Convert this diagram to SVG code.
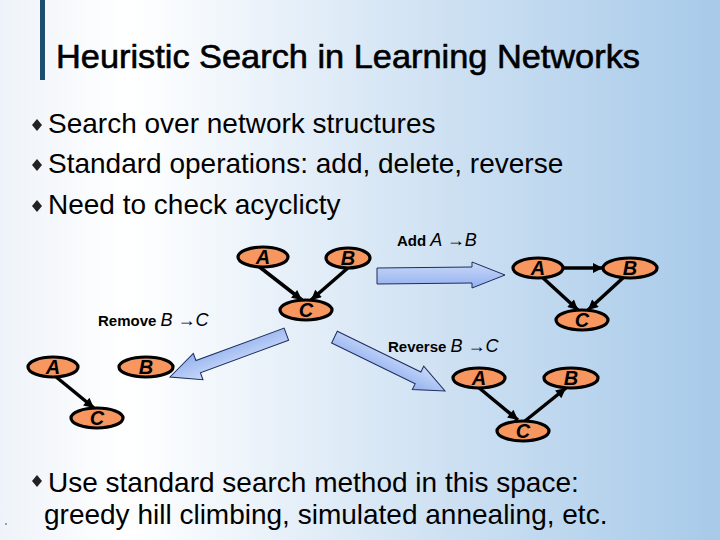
<svg xmlns="http://www.w3.org/2000/svg" width="720" height="540" viewBox="0 0 720 540">
<defs>
<linearGradient id="bg" x1="0" y1="0" x2="1" y2="0">
<stop offset="0" stop-color="#eef3f9"/>
<stop offset="0.18" stop-color="#ffffff"/>
<stop offset="0.6" stop-color="#d0e2f3"/>
<stop offset="1" stop-color="#a7cae9"/>
</linearGradient>
<linearGradient id="ar" x1="0" y1="0" x2="0" y2="1">
<stop offset="0" stop-color="#c9d9f8"/>
<stop offset="1" stop-color="#93b1f0"/>
</linearGradient>
<marker id="hd" viewBox="0 0 10 10" refX="10" refY="5" markerWidth="12" markerHeight="10" markerUnits="userSpaceOnUse" orient="auto">
<path d="M0,0 L10,5 L0,10 z" fill="#000"/>
</marker>
<style>
.t{font-family:"Liberation Sans",Arial,sans-serif;fill:#000}
.b{font-size:28px}
.op{font-family:"Liberation Sans",Arial,sans-serif;font-size:15px;font-weight:bold}
.it{font-family:"Liberation Sans",Arial,sans-serif;font-size:18px;font-style:italic;font-weight:normal}
.nd ellipse{fill:#f7965e;stroke:#000;stroke-width:3.2}
.nd text{font-family:"Liberation Sans",Arial,sans-serif;font-size:20px;font-style:italic;font-weight:bold;text-anchor:middle;fill:#000}
.e{stroke:#000;stroke-width:3.5;fill:none;marker-end:url(#hd)}
.blk{fill:url(#ar);stroke:#1e2c5c;stroke-width:1}
.dm{fill:#222}
</style>
</defs>
<rect width="720" height="540" fill="url(#bg)"/>
<rect x="40" y="0" width="5" height="80" fill="#1d4e6d"/>
<text class="t" x="56" y="68" font-size="33" textLength="584" lengthAdjust="spacingAndGlyphs" stroke="#000" stroke-width="0.6">Heuristic Search in Learning Networks</text>

<polygon class="dm" points="37,119 42,125 37,131 32,125"/>
<text class="t b" x="48" y="133">Search over network structures</text>
<polygon class="dm" points="37,159 42,165 37,171 32,165"/>
<text class="t b" x="48" y="173">Standard operations: add, delete, reverse</text>
<polygon class="dm" points="37,200 42,206 37,212 32,206"/>
<text class="t b" x="48" y="214">Need to check acyclicty</text>

<g id="op-arrows">
<polygon class="blk" points="377,268 472,267 472,262 505,275 472,288 472,283 377,284"/>
<g transform="translate(170,377) rotate(159.8)">
<polygon class="blk" points="-124,-6.5 -30,-6.5 -30,-14 0,0 -30,14 -30,6.5 -124,6.5"/>
</g>
<g transform="translate(445,391) rotate(26)">
<polygon class="blk" points="-123,-6.5 -30,-6.5 -30,-13 0,0 -30,13 -30,6.5 -123,6.5"/>
</g>
</g>

<text x="397" y="246"><tspan class="op">Add </tspan><tspan class="it">A →B</tspan></text>
<text x="98" y="326"><tspan class="op">Remove </tspan><tspan class="it">B →C</tspan></text>
<text x="388" y="352"><tspan class="op">Reverse </tspan><tspan class="it">B →C</tspan></text>

<g id="connectors">
<line class="e" x1="257" y1="265" x2="302" y2="300"/>
<line class="e" x1="349" y1="267" x2="311" y2="300"/>
<line class="e" x1="563" y1="268" x2="603" y2="268"/>
<line class="e" x1="542" y1="277" x2="578" y2="310"/>
<line class="e" x1="624" y1="277" x2="588" y2="310"/>
<line class="e" x1="55" y1="376" x2="94" y2="408"/>
<line class="e" x1="478" y1="387" x2="518" y2="420"/>
<line class="e" x1="525" y1="421" x2="566" y2="388"/>
</g>

<g id="g1-A" class="nd"><ellipse cx="263" cy="257" rx="25" ry="10"/><text x="263" y="264">A</text></g>
<g id="g1-B" class="nd"><ellipse cx="348" cy="258" rx="22" ry="10"/><text x="348" y="265">B</text></g>
<g id="g1-C" class="nd"><ellipse cx="306" cy="310" rx="26" ry="10"/><text x="306" y="317">C</text></g>

<g id="g2-A" class="nd"><ellipse cx="538" cy="268" rx="25" ry="10"/><text x="538" y="275">A</text></g>
<g id="g2-B" class="nd"><ellipse cx="630" cy="268" rx="27" ry="10"/><text x="630" y="275">B</text></g>
<g id="g2-C" class="nd"><ellipse cx="582" cy="320" rx="26" ry="10"/><text x="582" y="327">C</text></g>

<g id="g3-A" class="nd"><ellipse cx="53" cy="367" rx="25" ry="10"/><text x="53" y="374">A</text></g>
<g id="g3-B" class="nd"><ellipse cx="146" cy="367" rx="27" ry="10"/><text x="146" y="374">B</text></g>
<g id="g3-C" class="nd"><ellipse cx="97" cy="418" rx="26" ry="10"/><text x="97" y="425">C</text></g>

<g id="g4-A" class="nd"><ellipse cx="479" cy="378" rx="26" ry="10"/><text x="479" y="385">A</text></g>
<g id="g4-B" class="nd"><ellipse cx="571" cy="378" rx="27" ry="10"/><text x="571" y="385">B</text></g>
<g id="g4-C" class="nd"><ellipse cx="523" cy="431" rx="26" ry="10"/><text x="523" y="438">C</text></g>

<polygon class="dm" points="37,475 42,481 37,487 32,481"/>
<text class="t b" x="48" y="492">Use standard search method in this space:</text>
<text class="t b" x="44" y="524">greedy hill climbing, simulated annealing, etc.</text>
<circle cx="6" cy="524" r="0.8" fill="#333"/>
</svg>
